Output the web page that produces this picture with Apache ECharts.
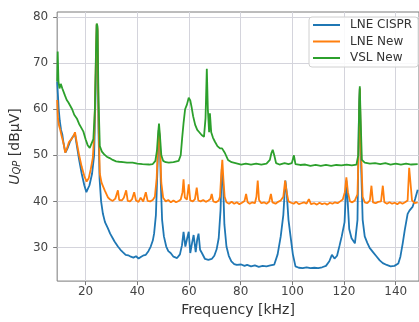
<!DOCTYPE html>
<html>
<head>
<meta charset="utf-8">
<script src="https://cdn.jsdelivr.net/npm/echarts@6/dist/echarts.min.js"></script>
<style>
html,body{margin:0;padding:0;background:#fff;}
#chart{width:419px;height:322px;}
</style>
</head>
<body>
<div id="chart"></div>
<script>
// ---- data ----
const seriesNames = ['LNE CISPR', 'LNE New', 'VSL New'];
const xTicks = [20, 40, 60, 80, 100, 120, 140];
const yTicks = [30, 40, 50, 60, 70, 80];

const blueFreq = [9.0,9.3,9.6,10.0,10.5,11.0,11.5,12.2,13.0,14.0,15.0,15.9,16.5,17.5,18.5,19.5,20.3,20.8,21.5,22.5,23.3,23.8,24.3,24.6,25.0,25.4,26.0,26.7,27.5,28.6,29.5,30.5,31.2,32.5,33.5,34.4,35.5,36.5,37.5,38.5,39.5,40.5,41.5,42.5,43.3,44.3,45.2,46.0,46.5,47.2,47.8,48.3,48.7,49.1,49.6,50.3,51.2,52.0,52.9,54.0,55.4,56.5,57.3,57.9,58.6,59.3,59.9,60.5,61.2,61.8,62.6,63.2,63.7,64.3,65.0,66.2,67.5,68.8,69.8,70.7,71.5,72.2,72.7,73.2,73.7,74.5,75.4,76.4,77.5,78.5,80.2,81.5,82.5,84.0,85.5,87.0,88.5,90.0,91.5,93.0,94.3,95.5,96.5,97.3,97.8,98.5,99.3,100.2,101.2,102.5,104.0,105.5,107.0,108.5,110.0,111.5,113.0,114.3,115.3,116.3,117.3,118.3,119.1,120.2,120.9,121.4,122.0,122.9,124.2,125.2,125.8,126.1,126.5,127.2,128.0,129.0,129.9,131.2,132.5,133.8,135.0,136.5,138.0,139.5,141.0,141.8,142.7,143.5,144.6,145.3,146.5,147.5,148.5];
const blueVal = [66,63,60,57.5,55.5,54.5,52.5,50.6,51.5,53,54,54.6,52.5,49,46,43.5,42.0,41.8,43.5,46,50,62,78.3,77,55,45,40,37.3,35.5,34.2,33,32,31.3,30.2,29.5,29.0,28.4,28.3,28.0,27.8,28.1,27.6,28.0,28.3,28.4,29.2,30.2,31.5,33,37,47,55.5,54,44,36,32.4,30.2,29.2,28.8,28,27.7,28.5,30.5,33.4,30.2,32,33.4,28.8,31,32.7,29,31.8,33.0,29.5,28.8,27.5,27.3,27.5,28.2,29.6,32,38,47,44,35,30.2,28.2,27,26.4,26.2,26.3,26,26.2,25.9,26.1,25.8,26.0,25.9,26.1,26.3,28.5,32.4,37,44.5,42,36,32.4,28.5,25.9,25.6,25.5,25.7,25.5,25.6,25.5,25.7,26,27,28.4,27.6,28.2,30.5,32.4,35.5,44.5,40,34,32,30.9,36,60,64.5,50,36,32.4,31,29.9,29,28.1,27.2,26.6,26.2,25.9,26.0,26.5,28,30.9,33.8,37.3,38,38.8,40.5,42.5];

const orangeFreq = [9.0,9.3,9.7,10.2,10.8,11.5,12.1,12.8,13.5,14.5,15.3,15.9,16.5,17.5,18.5,19.5,20.4,21.2,22.0,22.8,23.4,23.9,24.3,24.6,25.0,25.5,26.2,27.4,28.6,29.5,30.5,31.5,32.5,33.0,34.0,34.8,35.7,36.3,37.2,38.0,38.8,39.5,40.5,41.3,42.3,43.3,44.0,45.0,46.0,46.8,47.5,48.0,48.4,48.8,49.3,50.0,51.0,52.0,53.0,54.0,55.0,56.0,56.8,57.5,57.9,58.4,59.2,59.9,60.5,61.5,62.3,63.0,63.6,64.5,65.5,66.5,67.5,68.3,68.8,69.4,70.5,71.5,72.0,72.5,72.9,73.3,73.8,74.5,75.5,76.5,77.5,78.5,79.5,80.5,81.5,82.1,82.7,83.5,84.5,85.5,86.1,86.6,87.1,88.0,89.0,90.0,91.0,91.7,92.3,93.5,94.5,95.5,96.5,97.2,97.8,98.5,99.5,100.5,101.5,102.5,103.5,104.5,105.5,106.4,107.2,108.5,109.5,110.5,111.5,112.5,113.5,114.5,115.5,116.5,117.5,118.5,119.5,120.3,120.9,121.5,122.3,123.2,124.2,125.2,125.8,126.1,126.5,127.2,128.0,129.0,130.0,130.6,131.2,132.2,133.2,134.3,135.0,135.6,136.6,137.6,138.6,139.6,140.6,141.6,142.6,143.6,144.6,145.2,145.8,146.3,147.3,148.5];
const orangeVal = [62,58,56.5,55.5,54,52.5,50.6,51.5,52.8,53.5,54.2,55.0,53,50,47.5,45.5,44.3,45,47,49.5,55,68,78.5,77.5,58,46,44,42.4,40.9,40.4,40.1,40.6,42.4,40.3,40.2,40.8,42.4,40.1,40.0,40.5,42.0,40.2,39.9,40.8,40.0,42.0,40.1,40.0,40.3,41,45,52,56,52,44,40.8,40,40.3,39.8,40.2,39.8,40.1,40.4,42,44.8,40.8,40.4,43.7,40.2,40.0,40.5,43.0,40.2,40.0,40.3,39.9,40.2,40.5,41.6,40.0,39.8,40.2,41,46,49,45,41,39.8,39.5,39.9,39.5,39.8,39.4,39.7,40.1,41.6,39.8,39.5,39.8,39.6,41,44.5,40.3,39.6,39.8,39.5,39.9,41.6,39.8,39.5,39.9,40.2,41,44.5,42,40,39.7,39.5,39.9,39.4,39.6,39.8,39.5,40.5,39.4,39.6,39.3,39.7,39.4,39.6,39.3,39.7,39.5,39.8,39.6,40.0,40.4,42,45.2,42,40,39.8,40.2,41.5,55,64.5,52,41,39.8,39.6,40.2,43.4,39.8,39.6,39.9,40,43.4,39.8,39.5,39.8,39.5,39.7,39.4,39.8,39.5,39.8,40.2,47.3,47.5,40.2,39.6,39.8];

const greenFreq = [9.0,9.2,9.5,9.9,10.4,11.0,11.4,12.0,12.7,13.3,14.0,14.8,15.6,16.6,17.5,18.3,19.1,20.0,20.8,21.6,22.3,23.0,23.6,24.0,24.3,24.6,25.0,25.5,26.3,27.2,28.2,29.3,30.5,31.8,33.0,34.5,36.0,38.2,40.0,42.0,44.6,46.0,47.0,47.6,48.1,48.4,48.8,49.3,50.0,51.0,52.2,54.0,56.0,56.8,57.4,57.9,58.5,59.2,59.9,60.5,61.0,61.6,62.4,63.2,64.0,64.9,65.8,66.4,66.9,67.3,67.8,68.1,68.6,69.3,70.0,71.0,72.0,72.8,73.9,75.1,76.5,78.0,80.2,82.0,84.0,86.0,88.0,90.0,91.3,91.9,92.4,93.0,93.7,95.0,97.0,98.5,99.8,100.6,101.2,103.0,105.0,107.0,109.0,111.0,113.0,115.0,117.0,119.0,121.0,123.0,124.8,125.5,125.9,126.1,126.4,126.9,128.0,130.0,132.0,134.0,136.0,138.0,140.0,142.0,144.0,146.0,148.5];
const greenVal = [66,72.5,66,64.5,65.5,64.5,64.8,63,62,61.5,60.8,60,58.8,58,56.8,56,55.2,53.5,52.2,51.6,52,53.5,60,72,78.6,78,62,52,50.8,50.2,49.7,49.4,49,48.7,48.6,48.5,48.4,48.4,48.2,48.1,48.0,48.1,48.8,51,55,56.9,54,50,48.8,48.5,48.4,48.5,48.8,50,54,57,60,61,62.5,61.9,60.5,58.5,56.6,55.5,55,54.4,54,58,68.8,60,55,59.1,55,53.8,53,52,51.5,51.5,50.5,49,48.5,48.3,48.0,48.2,48.0,48.2,48.0,48.2,49,50.5,51.2,50,48.3,48.0,48.3,48.1,48.3,50.0,48.1,47.9,48.0,47.7,47.9,47.7,47.9,47.7,47.9,47.8,48.0,47.8,48,50,62,65,58,49,48.4,48.2,48.3,48.1,48.3,48.0,48.2,48.0,48.2,48.0,48.1];

const seriesColors = ['#1f77b4', '#ff7f0e', '#2ca02c'];

function pairs(xs, ys) { return xs.map((x, i) => [x, ys[i]]); }
const seriesData = [pairs(blueFreq, blueVal), pairs(orangeFreq, orangeVal), pairs(greenFreq, greenVal)];

const chart = echarts.init(document.getElementById('chart'), null, {renderer: 'canvas'});
const font = 'DejaVu Sans';
const option = {
  animation: false,
  backgroundColor: '#ffffff',
  textStyle: {fontFamily: font},
  grid: {left: 57, top: 12, right: -4, bottom: 37, show: true, borderColor: '#7a7a7a', borderWidth: 1, backgroundColor: 'transparent', containLabel: false},
  legend: {
    orient: 'vertical', left: 309, top: 17,
    data: seriesNames,
    icon: 'rect', itemWidth: 27, itemHeight: 2, itemGap: 4.5,
    padding: [2, 6, 3, 4],
    backgroundColor: 'rgba(255,255,255,0.85)', borderColor: '#d0d0d0', borderWidth: 1, borderRadius: 3,
    textStyle: {fontFamily: font, fontSize: 12, color: '#333', padding: [0, 0, 0, 5]}
  },
  xAxis: {
    type: 'value', min: 9, max: 149, splitNumber: 7,
    name: 'Frequency [kHz]', nameLocation: 'middle', nameGap: 19,
    nameTextStyle: {fontFamily: font, fontSize: 14, color: '#333'},
    axisLine: {show: false},
    axisTick: {show: true, inside: false, length: 4, customValues: xTicks, lineStyle: {color: '#7a7a7a', width: 1}},
    axisLabel: {customValues: xTicks, fontFamily: font, fontSize: 12, color: '#444', margin: 5},
    splitLine: {show: true, lineStyle: {color: '#d4d4dc', width: 1}}
  },
  yAxis: {
    type: 'value', min: 22.7, max: 81.1, splitNumber: 6,
    name: '{u|U}{s|QP}{t| [dBμV]}', nameLocation: 'middle', nameGap: 31,
    nameTextStyle: {fontFamily: font, fontSize: 14, color: '#333',
      rich: {
        u: {fontFamily: font, fontSize: 14, fontStyle: 'italic', color: '#333'},
        s: {fontFamily: font, fontSize: 10, fontStyle: 'italic', color: '#333', verticalAlign: 'bottom', lineHeight: 8},
        t: {fontFamily: font, fontSize: 14, color: '#333'}
      }},
    axisLine: {show: false},
    axisTick: {show: true, inside: false, length: 4, customValues: yTicks, lineStyle: {color: '#7a7a7a', width: 1}},
    axisLabel: {customValues: yTicks, fontFamily: font, fontSize: 12, color: '#444', margin: 9},
    splitLine: {show: true, lineStyle: {color: '#d4d4dc', width: 1}}
  },
  series: seriesNames.map((n, i) => ({
    name: n, type: 'line', data: seriesData[i],
    showSymbol: false, symbol: 'none', clip: true,
    color: seriesColors[i],
    lineStyle: {color: seriesColors[i], width: 1.8},
    z: 2 + i
  }))
};
chart.setOption(option);
</script>
</body>
</html>
